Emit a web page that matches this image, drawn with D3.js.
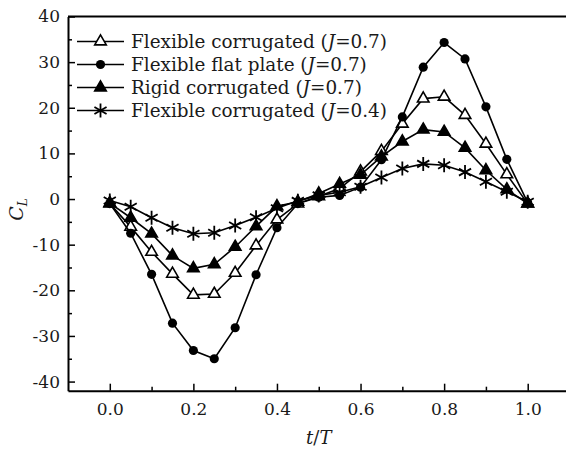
<!DOCTYPE html>
<html>
<head>
<meta charset="utf-8">
<script src="https://cdn.jsdelivr.net/npm/d3@7"></script>
<style>
  body { margin: 0; background: #fff; }
  text { font-family: "DejaVu Serif", serif; fill: #1a1a1a; }
</style>
</head>
<body>
<svg id="chart" width="566" height="453"></svg>
<script>
// t/T sample points
const tValues = [0, 0.05, 0.1, 0.15, 0.2, 0.25, 0.3, 0.35, 0.4, 0.45, 0.5,
                 0.55, 0.6, 0.65, 0.7, 0.75, 0.8, 0.85, 0.9, 0.95, 1.0]

// C_L per series
const flexCorr07 = [-1.0, -6.1, -11.6, -16.4, -21.0, -20.8, -16.2, -10.2, -4.5, -1.0, 0.6,
                    2.3, 6.0, 10.5, 16.5, 22.0, 22.4, 18.4, 12.1, 5.4, -1.0]
const flexFlat07 = [-1.0, -7.5, -16.5, -27.2, -33.2, -35.0, -28.2, -16.6, -6.3, -1.0, 0.4,
                    0.8, 2.6, 8.6, 18.0, 28.9, 34.3, 30.7, 20.2, 8.7, -0.8]
const rigidCorr07 = [-0.9, -4.1, -7.6, -12.4, -15.2, -14.3, -10.5, -6.0, -1.6, -0.6, 1.2,
                     3.3, 5.3, 9.3, 12.6, 15.2, 14.7, 11.2, 6.3, 2.1, -1.0]
const flexCorr04 = [-0.3, -1.7, -4.1, -6.3, -7.6, -7.4, -5.8, -4.0, -2.0, -0.4, 0.8,
                    1.5, 2.7, 4.7, 6.7, 7.7, 7.4, 5.9, 3.8, 1.6, -0.6]

const seriesNames = ['Flexible corrugated', 'Flexible flat plate', 'Rigid corrugated', 'Flexible corrugated']
const seriesJ = ['0.7', '0.7', '0.7', '0.4']
const seriesValues = [flexCorr07, flexFlat07, rigidCorr07, flexCorr04]
const seriesMarkers = ['openTriangle', 'circle', 'triangle', 'star']

const xTicks = [0, 0.2, 0.4, 0.6, 0.8, 1.0]
const xMinorTicks = [0.1, 0.3, 0.5, 0.7, 0.9]
const yTicks = [-40, -30, -20, -10, 0, 10, 20, 30, 40]
const yMinorTicks = [-35, -25, -15, -5, 5, 15, 25, 35]

const svg = d3.select('#chart')

const x = d3.scaleLinear().domain([-0.1, 1.1]).range([68, 569.5])
const y = d3.scaleLinear().domain([-42, 40]).range([390.7, 16.5])

// axes
svg.append('g')
    .attr('transform', `translate(0,${y(-42)})`)
    .call(d3.axisBottom(x).tickValues(xTicks).tickFormat(d3.format('.1f'))
        .tickSizeInner(-7).tickSizeOuter(0).tickPadding(12))
const xMinorG = svg.append('g')
    .attr('transform', `translate(0,${y(-42)})`)
    .call(d3.axisBottom(x).tickValues(xMinorTicks).tickFormat('')
        .tickSizeInner(-4).tickSizeOuter(0))
xMinorG.select('.domain').remove()

svg.append('g')
    .attr('transform', `translate(${x(-0.1)},0)`)
    .call(d3.axisLeft(y).tickValues(yTicks).tickFormat(d => String(d))
        .tickSizeInner(-7).tickSizeOuter(0).tickPadding(8))
const yMinorG = svg.append('g')
    .attr('transform', `translate(${x(-0.1)},0)`)
    .call(d3.axisLeft(y).tickValues(yMinorTicks).tickFormat('')
        .tickSizeInner(-4).tickSizeOuter(0))
yMinorG.select('.domain').remove()

svg.selectAll('.domain').attr('stroke', '#000').attr('stroke-width', 2)
svg.selectAll('.tick line').attr('stroke', '#000').attr('stroke-width', 1.5)
svg.selectAll('.tick text').style('font-size', '17px').attr('fill', '#1a1a1a')

// top and right frame
svg.append('line')
    .attr('x1', x(-0.1)).attr('x2', x(1.1))
    .attr('y1', y(40)).attr('y2', y(40))
    .attr('stroke', '#000').attr('stroke-width', 2)
svg.append('line')
    .attr('x1', x(1.1)).attr('x2', x(1.1))
    .attr('y1', y(40)).attr('y2', y(-42))
    .attr('stroke', '#000').attr('stroke-width', 2)

// axis titles
svg.append('text')
    .attr('x', x(0.5)).attr('y', 444)
    .attr('text-anchor', 'middle')
    .style('font-size', '18px')
    .call(t => {
        t.append('tspan').attr('font-style', 'italic').text('t')
        t.append('tspan').text('/')
        t.append('tspan').attr('font-style', 'italic').text('T')
    })

svg.append('text')
    .attr('transform', `translate(23,${(y(40) + y(-42)) / 2 + 6}) rotate(-90)`)
    .attr('text-anchor', 'middle')
    .style('font-size', '19px')
    .call(t => {
        t.append('tspan').attr('font-style', 'italic').text('C')
        t.append('tspan').attr('font-style', 'italic').attr('font-size', '12px')
            .attr('dy', 4).text('L')
    })

// markers
function drawMarker(g, type) {
    if (type === 'circle') {
        g.append('path').attr('d', d3.symbol(d3.symbolCircle, 66)())
            .attr('fill', '#000')
    } else if (type === 'triangle' || type === 'openTriangle') {
        g.append('path').attr('d', d3.symbol(d3.symbolTriangle, 58)())
            .attr('fill', type === 'triangle' ? '#000' : '#fff')
            .attr('stroke', '#000').attr('stroke-width', 1.6)
            .attr('stroke-linejoin', 'miter')
    } else if (type === 'star') {
        const r = 7
        const arms = [90, 30, 150].map(a => {
            const rad = a * Math.PI / 180
            const dx = r * Math.cos(rad), dy = r * Math.sin(rad)
            return `M${-dx},${dy}L${dx},${-dy}`
        }).join('')
        g.append('path').attr('d', arms)
            .attr('fill', 'none').attr('stroke', '#000').attr('stroke-width', 1.8)
    }
}

const line = d3.line()
    .x((d, i) => x(tValues[i]))
    .y(d => y(d))

seriesValues.forEach((vals, s) => {
    const g = svg.append('g')
    g.append('path')
        .attr('d', line(vals))
        .attr('fill', 'none')
        .attr('stroke', '#000')
        .attr('stroke-width', 1.6)
    g.selectAll('g.mk')
        .data(vals)
        .join('g')
            .attr('class', 'mk')
            .attr('transform', (d, i) => `translate(${x(tValues[i])},${y(d)})`)
            .each(function () { drawMarker(d3.select(this), seriesMarkers[s]) })
})

// legend
const legend = svg.append('g')
seriesNames.forEach((name, i) => {
    const rowY = 41.5 + i * 23
    const row = legend.append('g').attr('transform', `translate(0,${rowY})`)
    row.append('line')
        .attr('x1', 77).attr('x2', 124)
        .attr('stroke', '#000').attr('stroke-width', 1.6)
    const mk = row.append('g').attr('transform', 'translate(100.5,0)')
    drawMarker(mk, seriesMarkers[i])
    row.append('text')
        .attr('x', 131).attr('dy', '0.36em')
        .style('font-size', '18.4px')
        .call(t => {
            t.append('tspan').text(`${name} (`)
            t.append('tspan').attr('font-style', 'italic').text('J')
            t.append('tspan').text(`=${seriesJ[i]})`)
        })
})
</script>
</body>
</html>
